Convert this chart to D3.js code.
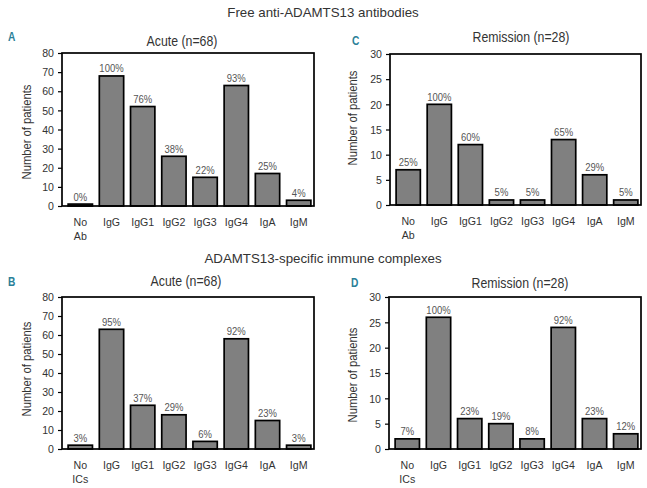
<!DOCTYPE html>
<html><head><meta charset="utf-8">
<script src="https://cdn.jsdelivr.net/npm/d3@7"></script>
<style>
body{margin:0;background:#fff;}
svg{display:block;font-family:"Liberation Sans",Arial,sans-serif;}
</style></head><body>
<svg id="c" width="647" height="488"></svg>
<script>
const categoriesAb = ["No\nAb","IgG","IgG1","IgG2","IgG3","IgG4","IgA","IgM"];
const categoriesIC = ["No\nICs","IgG","IgG1","IgG2","IgG3","IgG4","IgA","IgM"];

const acuteAbValues = [1, 68, 52, 26, 15, 63, 17, 3];
const acuteAbPct = ["0%","100%","76%","38%","22%","93%","25%","4%"];
const remissionAbValues = [7, 20, 12, 1, 1, 13, 6, 1];
const remissionAbPct = ["25%","100%","60%","5%","5%","65%","29%","5%"];
const acuteICValues = [2, 63, 23, 18, 4, 58, 15, 2];
const acuteICPct = ["3%","95%","37%","29%","6%","92%","23%","3%"];
const remissionICValues = [2, 26, 6, 5, 2, 24, 6, 3];
const remissionICPct = ["7%","100%","23%","19%","8%","92%","23%","12%"];

const acuteTicks = [0,10,20,30,40,50,60,70,80];
const remissionTicks = [0,5,10,15,20,25,30];

const svg = d3.select("#c");
const TXT = "#333";

function addText(parent, x, y, txt, size, sx, opts={}){
  const t = parent.append("text")
    .attr("transform", `translate(${x},${y})${opts.rotate?` rotate(${opts.rotate})`:""} scale(${sx},1)`)
    .attr("text-anchor", opts.anchor||"middle")
    .attr("font-size", size).attr("fill", opts.fill||TXT).text(txt);
  if(opts.weight) t.attr("font-weight", opts.weight);
  return t;
}

addText(svg, 323, 17, "Free anti-ADAMTS13 antibodies", 13.3, 1);
addText(svg, 323, 263, "ADAMTS13-specific immune complexes", 13.3, 1);

function panel(o){
  const g = svg.append("g");
  const x = d3.scaleBand().domain(o.cats.map((c,i)=>i)).range([o.x0+3,o.x1]).paddingInner(0.22).paddingOuter(0.1);
  const y = d3.scaleLinear().domain([0,o.max]).range([o.y0,o.yTop]);
  g.selectAll("rect.bar").data(o.values).join("rect").attr("class","bar")
    .attr("x",(d,i)=>x(i)).attr("width",x.bandwidth())
    .attr("y",d=>y(d)).attr("height",d=>y(0)-y(d))
    .attr("fill","#808080").attr("stroke","#000").attr("stroke-width",1.7);
  o.values.forEach((d,i)=>{
    addText(g, x(i)+x.bandwidth()/2, y(d)-3.5, o.pct[i], 10, 0.95, {fill:"#555"});
  });
  g.append("rect").attr("x",o.x0).attr("y",o.yTop).attr("width",o.x1-o.x0).attr("height",o.y0-o.yTop)
    .attr("fill","none").attr("stroke","#000").attr("stroke-width",1.7);
  const ax = g.append("g").attr("transform",`translate(${o.x0},0)`)
    .call(d3.axisLeft(y).tickValues(o.ticks).tickSize(4).tickPadding(4));
  ax.select(".domain").remove();
  ax.selectAll("line").attr("stroke","#000").attr("stroke-width",1.2);
  ax.selectAll("text").attr("x",null).attr("transform","translate(-8,0) scale(0.92,1)")
    .attr("font-size",11.5).attr("fill",TXT).attr("font-family",null);
  o.cats.forEach((c,i)=>{
    c.split("\n").forEach((l,k)=>{
      addText(g, x(i)+x.bandwidth()/2, o.y0+20+k*14, l, 11.8, 0.9);
    });
  });
  addText(g, o.ylx, o.yly, "Number of patients", 12.5, 0.9, {rotate:-90});
  addText(g, o.stx, o.sty, o.sub, 14, 0.88);
  addText(g, o.lx, o.ly, o.letter, 12, 0.85, {anchor:"start", weight:"bold", fill:"#2a7f98"});
}

panel({cats:categoriesAb, values:acuteAbValues, pct:acuteAbPct, ticks:acuteTicks, max:80,
  x0:62, x1:314, yTop:53, y0:206, ylx:31, yly:132, stx:182, sty:46, sub:"Acute (n=68)", lx:8, ly:41, letter:"A"});
panel({cats:categoriesAb, values:remissionAbValues, pct:remissionAbPct, ticks:remissionTicks, max:30,
  x0:390, x1:641, yTop:54, y0:205, ylx:357, yly:118, stx:521, sty:42, sub:"Remission (n=28)", lx:352, ly:45, letter:"C"});
panel({cats:categoriesIC, values:acuteICValues, pct:acuteICPct, ticks:acuteTicks, max:80,
  x0:62, x1:314, yTop:297, y0:449, ylx:31, yly:369, stx:186, sty:286, sub:"Acute (n=68)", lx:8, ly:286, letter:"B"});
panel({cats:categoriesIC, values:remissionICValues, pct:remissionICPct, ticks:remissionTicks, max:30,
  x0:389, x1:641, yTop:297, y0:449, ylx:357, yly:375, stx:520, sty:288, sub:"Remission (n=28)", lx:351, ly:287, letter:"D"});
</script>
</body></html>
